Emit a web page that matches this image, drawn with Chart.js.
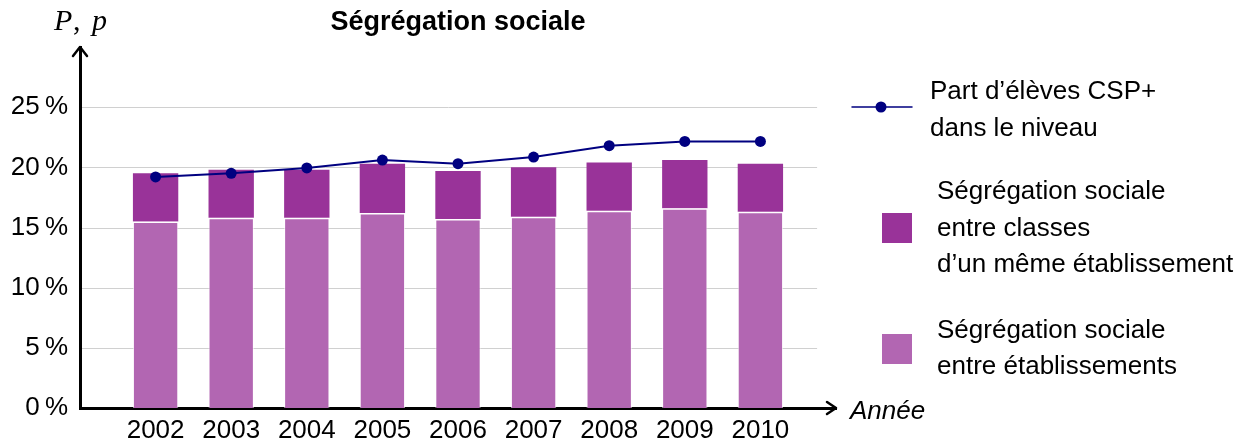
<!DOCTYPE html>
<html lang="fr">
<head>
<meta charset="utf-8">
<title>Ségrégation sociale</title>
<script src="https://cdn.jsdelivr.net/npm/chart.js@4.4.1/dist/chart.umd.min.js"></script>
<style>
  html, body { margin: 0; padding: 0; background: #fff; }
  #wrap { width: 1256px; height: 446px; }
</style>
</head>
<body>
<div id="wrap"><canvas id="segChart" width="1256" height="446"></canvas></div>
<script>
// values (in %)
const years = [2002, 2003, 2004, 2005, 2006, 2007, 2008, 2009, 2010];
const entreEtablissements = [15.5, 15.8, 15.8, 16.2, 15.7, 15.9, 16.4, 16.6, 16.3];
const entreClasses = [4.0, 4.0, 4.0, 4.1, 4.0, 4.1, 4.0, 4.0, 4.0];
const partCSP = [19.2, 19.5, 19.95, 20.6, 20.3, 20.85, 21.8, 22.15, 22.15];
const yTicks = [0, 5, 10, 15, 20, 25];

const colEtab = '#b266b2';
const colClasses = '#993399';
const colLine = '#000080';
const FONT = '"Liberation Sans", Arial, sans-serif';

Chart.defaults.font.family = FONT;
Chart.defaults.color = '#000';

function arrowHead(ctx, tipX, tipY, dir) {
  ctx.beginPath();
  if (dir === 'right') {
    ctx.moveTo(tipX - 9, tipY - 6);
    ctx.lineTo(tipX, tipY);
    ctx.lineTo(tipX - 9, tipY + 6);
  } else {
    ctx.moveTo(tipX - 7, tipY + 9);
    ctx.lineTo(tipX, tipY);
    ctx.lineTo(tipX + 7, tipY + 9);
  }
  ctx.stroke();
}

// gridlines (stop short of the arrow), arrows, title, axis names, legend
const decorPlugin = {
  id: 'decor',
  beforeDraw(chart) {
    const { ctx, scales: { x, y } } = chart;
    const xEnd = x.getPixelForValue(years[years.length - 1] + 0.75);
    ctx.save();
    ctx.strokeStyle = '#d0d0d0';
    ctx.lineWidth = 1;
    yTicks.forEach(v => {
      if (v === 0) return;
      const py = Math.round(y.getPixelForValue(v)) + 0.5;
      ctx.beginPath();
      ctx.moveTo(x.left, py);
      ctx.lineTo(xEnd, py);
      ctx.stroke();
    });
    ctx.restore();
  },
  afterDraw(chart) {
    const { ctx, chartArea, scales: { x, y } } = chart;
    ctx.save();
    ctx.strokeStyle = '#000';
    ctx.lineWidth = 2.5;
    ctx.lineJoin = 'round';
    ctx.lineCap = 'round';
    arrowHead(ctx, chartArea.right, y.getPixelForValue(0), 'right');
    arrowHead(ctx, x.left, chartArea.top, 'up');

    ctx.fillStyle = '#000';
    ctx.textBaseline = 'alphabetic';

    // title
    ctx.font = 'bold 27px ' + FONT;
    ctx.textAlign = 'center';
    ctx.fillText('Ségrégation sociale', (chartArea.left + chartArea.right) / 2, 30);

    // axis names
    ctx.textAlign = 'left';
    ctx.font = 'italic 30px "Liberation Serif", serif';
    ctx.fillText('P', 54, 30);
    ctx.fillText('p', 92, 30);
    ctx.font = '30px "Liberation Serif", serif';
    ctx.fillText(',', 73, 30);
    ctx.font = 'italic 26px ' + FONT;
    ctx.fillText('Année', 850, 419);

    // legend
    ctx.strokeStyle = colLine;
    ctx.lineWidth = 1.5;
    ctx.beginPath();
    ctx.moveTo(852, 107);
    ctx.lineTo(912, 107);
    ctx.stroke();
    ctx.fillStyle = colLine;
    ctx.beginPath();
    ctx.arc(881, 107, 5.5, 0, Math.PI * 2);
    ctx.fill();

    ctx.fillStyle = colClasses;
    ctx.fillRect(882, 213, 30, 30);
    ctx.fillStyle = colEtab;
    ctx.fillRect(882, 334, 30, 30);

    ctx.fillStyle = '#000';
    ctx.font = '26px ' + FONT;
    ctx.fillText('Part d’élèves CSP+', 930, 99);
    ctx.fillText('dans le niveau', 930, 136);
    ctx.fillText('Ségrégation sociale', 937, 199);
    ctx.fillText('entre classes', 937, 236);
    ctx.fillText('d’un même établissement', 937, 272);
    ctx.fillText('Ségrégation sociale', 937, 338);
    ctx.fillText('entre établissements', 937, 374);
    ctx.restore();
  }
};

const ctx = document.getElementById('segChart').getContext('2d');
const segChart = new Chart(ctx, {
  type: 'bar',
  data: {
    datasets: [
      {
        type: 'line',
        label: 'Part d’élèves CSP+ dans le niveau',
        data: years.map((yr, i) => ({ x: yr, y: partCSP[i] })),
        stack: 'csp',
        order: 0,
        borderColor: colLine,
        backgroundColor: colLine,
        borderWidth: 2,
        pointRadius: 5.5,
        pointBorderWidth: 0,
        tension: 0
      },
      {
        label: 'Ségrégation sociale entre établissements',
        data: years.map((yr, i) => ({ x: yr, y: entreEtablissements[i] })),
        order: 1,
        backgroundColor: colEtab,
        borderColor: 'rgba(255,255,255,0.65)',
        borderWidth: { top: 1.5, left: 1, right: 1, bottom: 0 },
        barPercentage: 0.6,
        categoryPercentage: 1
      },
      {
        label: 'Ségrégation sociale entre classes d’un même établissement',
        data: years.map((yr, i) => ({ x: yr, y: entreClasses[i] })),
        order: 2,
        backgroundColor: colClasses,
        borderWidth: 0,
        barPercentage: 0.6,
        categoryPercentage: 1
      }
    ]
  },
  options: {
    responsive: false,
    animation: false,
    layout: { padding: { top: 47, right: 420, bottom: 0, left: 0 } },
    plugins: {
      legend: { display: false },
      tooltip: { enabled: false }
    },
    scales: {
      x: {
        type: 'linear',
        stacked: true,
        offset: false,
        min: 2001,
        max: 2011,
        afterFit: s => { s.height = 38; },
        afterBuildTicks: s => { s.ticks = years.map(v => ({ value: v })); },
        grid: { display: false, drawTicks: false, offset: false },
        border: { display: true, color: '#000', width: 3 },
        ticks: {
          autoSkip: false,
          maxRotation: 0,
          padding: 7,
          font: { size: 26 },
          callback: v => String(v)
        }
      },
      y: {
        stacked: true,
        min: 0,
        max: 30,
        afterFit: s => { s.width = 80; },
        afterBuildTicks: s => { s.ticks = yTicks.map(v => ({ value: v })); },
        grid: { display: false, drawTicks: false },
        border: { display: true, color: '#000', width: 3 },
        ticks: {
          padding: 12,
          font: { size: 26 },
          callback: v => v + '\u2009%'
        }
      }
    }
  },
  plugins: [decorPlugin]
});
</script>
</body>
</html>
